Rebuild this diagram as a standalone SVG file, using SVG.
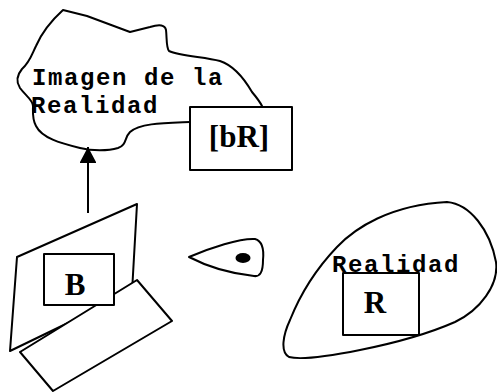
<svg xmlns="http://www.w3.org/2000/svg" width="497" height="392" viewBox="0 0 497 392">
<style>
.ln{fill:#fff;stroke:#000;stroke-width:2;stroke-linejoin:round}
.mono{font-family:"Liberation Mono","Courier New",monospace;font-weight:bold;font-size:24px;letter-spacing:1.6px;fill:#000}
.big{font-family:"Liberation Serif","Times New Roman",serif;font-weight:bold;font-size:31px;fill:#000;text-anchor:middle}
</style>
<defs>
<marker id="ah" markerWidth="17" markerHeight="16" refX="16" refY="8.5" orient="auto" markerUnits="userSpaceOnUse">
<path d="M0,0 L16,8.5 L0,17 Z" fill="#000"/>
</marker>
</defs>
<rect width="497" height="392" fill="#fff"/>
<g id="imagen">
<path class="ln" d="M63,10 L87,16 L130,32 L150,27 C160,24 165,25 166,30 C167,38 166,47 169,51 C180,56 205,57 220,61 C235,66 245,80 252,92 C257,98 260,102 262,106 L262,122 L190,122 C165,123 140,123 130,132 C124,138 127,145 118,148 C108,151 92,151 80,148 C60,143 42,138 36,126 C32,119 33,112 33,106 C33,100 25,95 20,88 C16,82 17,75 22,69 C30,62 32,54 36,46 C42,32 52,20 63,10 Z"/>
<text class="mono" x="32" y="85">Imagen de la</text>
<text class="mono" x="31" y="113">Realidad</text>
</g>
<g id="bR">
<rect class="ln" x="190" y="107" width="102" height="63"/>
<text class="big" x="239" y="147">[bR]</text>
</g>
<g id="connectors">
<line x1="88" y1="213" x2="88" y2="147" stroke="#000" stroke-width="2" marker-end="url(#ah)"/>
</g>
<g id="B">
<polygon class="ln" points="17,257 137,204 132,292 10,351"/>
<polygon class="ln" points="20,352 137,280 172,321 53,391"/>
<rect class="ln" x="44" y="254" width="70" height="51"/>
<text class="big" x="75" y="295">B</text>
</g>
<g id="eye">
<path class="ln" d="M189,257 C210,248 240,238 255,239 C262,241 264,250 263,260 C263,272 260,277 254,276 C235,274 210,268 189,257 Z"/>
<ellipse cx="243" cy="258" rx="7.5" ry="5" fill="#000"/>
</g>
<g id="realidad">
<path class="ln" d="M447,202 C470,204 490,230 496,262 C499,285 480,310 455,322 C430,333 400,342 360,350 C330,356 300,360 289,357 C280,352 283,335 290,320 C300,295 315,270 337,247 C355,228 390,205 447,202 Z"/>
<text class="mono" x="332" y="272">Realidad</text>
<rect class="ln" x="343" y="273" width="76" height="62"/>
<text class="big" x="375" y="313">R</text>
</g>
</svg>
